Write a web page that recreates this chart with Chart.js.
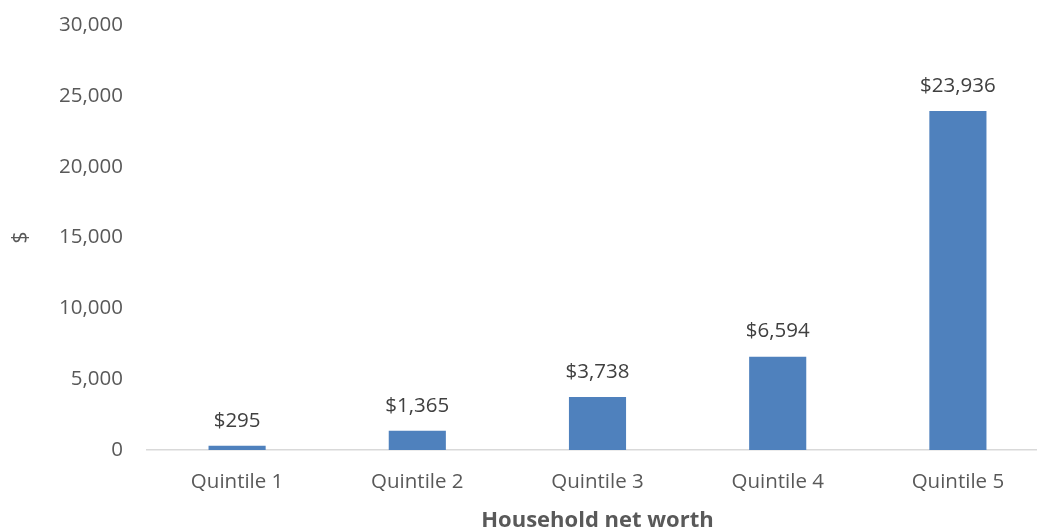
<!DOCTYPE html>
<html>
<head>
<meta charset="utf-8">
<script src="https://cdn.jsdelivr.net/npm/chart.js@4"></script>
<style>
  html, body { margin: 0; padding: 0; background: #fff; overflow: hidden; }
  #wrap { width: 1048px; height: 531px; }
</style>
</head>
<body>
<div id="wrap"><canvas id="netWorthChart"></canvas></div>
<script>
const categories = ["Quintile 1", "Quintile 2", "Quintile 3", "Quintile 4", "Quintile 5"];
const values = [295, 1365, 3738, 6594, 23936];
const yTicks = [0, 5000, 10000, 15000, 20000, 25000, 30000];

const fontFamily = "'Open Sans', sans-serif";
const textColor = "#595959";

// labels above every bar
const barLabels = {
    id: "barLabels",
    afterDatasetsDraw(chart) {
        const ctx = chart.ctx;
        const meta = chart.getDatasetMeta(0);
        ctx.save();
        ctx.font = "20.5px " + fontFamily;
        ctx.fillStyle = "#404040";
        ctx.textAlign = "center";
        ctx.textBaseline = "middle";
        meta.data.forEach((bar, i) => {
            ctx.fillText("$" + values[i].toLocaleString("en-US"), bar.x, bar.y - 25);
        });
        ctx.restore();
    }
};

new Chart(document.getElementById("netWorthChart"), {
    type: "bar",
    data: {
        labels: categories,
        datasets: [{
            data: values,
            backgroundColor: "#4F81BD",
            barPercentage: 0.317,
            categoryPercentage: 1
        }]
    },
    options: {
        responsive: true,
        maintainAspectRatio: false,
        animation: false,
        layout: { padding: 0 },
        plugins: { legend: { display: false }, tooltip: { enabled: false } },
        scales: {
            x: {
                grid: { display: false },
                border: { color: "#d9d9d9", width: 1.5 },
                ticks: { color: textColor, font: { family: fontFamily, size: 20.5 }, padding: 12 },
                title: {
                    display: true,
                    text: "Household net worth",
                    color: textColor,
                    font: { family: fontFamily, size: 22, weight: "bold" },
                    padding: { top: 12, bottom: -3 }
                },
                afterFit(scale) { scale.height = 81; }
            },
            y: {
                min: 0,
                max: 30000,
                afterBuildTicks(scale) { scale.ticks = yTicks.map(v => ({ value: v })); },
                grid: { display: false },
                border: { display: false },
                ticks: {
                    color: textColor,
                    font: { family: fontFamily, size: 20.5, lineHeight: 0.9 },
                    padding: 16,
                    callback: v => v.toLocaleString("en-US")
                },
                title: {
                    display: true,
                    text: "$",
                    color: textColor,
                    font: { family: fontFamily, size: 21 },
                    padding: { top: 8, bottom: 0 }
                },
                afterFit(scale) { scale.width = 147; }
            }
        }
    },
    plugins: [barLabels]
});
</script>
</body>
</html>
